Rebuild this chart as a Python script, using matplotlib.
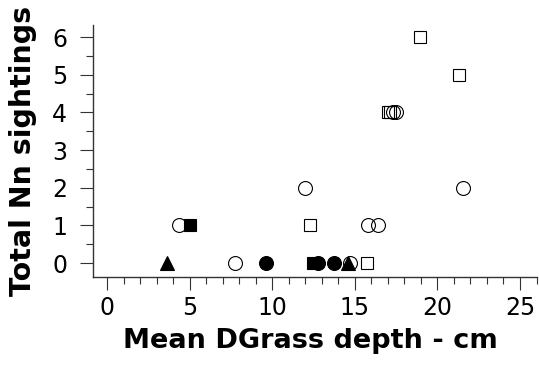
import matplotlib
matplotlib.use("Agg")
import matplotlib.pyplot as plt
from matplotlib.ticker import MultipleLocator

# Data
open_circle_x = [4.36, 7.71, 11.97, 14.7, 15.82, 16.41, 17.3, 17.48, 21.52]
open_circle_y = [1, 0, 2, 0, 1, 1, 4, 4, 2]
open_square_x = [12.28, 15.73, 16.99, 17.15, 18.94, 21.3]
open_square_y = [1, 0, 4, 4, 6, 5]
filled_circle_x = [9.59, 12.76, 13.73]
filled_circle_y = [0, 0, 0]
filled_square_x = [5.0, 12.46]
filled_square_y = [1, 0]
filled_triangle_x = [3.63, 14.6]
filled_triangle_y = [0, 0]

x_ticks = [0, 5, 10, 15, 20, 25]
y_ticks = [0, 1, 2, 3, 4, 5, 6]
x_label = "Mean DGrass depth - cm"
y_label = "Total Nn sightings"

plt.rcParams['font.family'] = ['DejaVu Sans']

fig = plt.figure(figsize=(5.39, 3.67), dpi=100)
ax = fig.add_axes([0.1725, 0.2452, 0.8238, 0.6867])

lw = 0.8
ax.plot(open_circle_x, open_circle_y, 'o', ms=10, mfc='none', mec='black', mew=lw, zorder=3)
ax.plot(open_square_x, open_square_y, 's', ms=9, mfc='none', mec='black', mew=lw, zorder=3)
ax.plot(filled_circle_x, filled_circle_y, 'o', ms=10, mfc='black', mec='black', mew=lw, zorder=4)
ax.plot(filled_square_x, filled_square_y, 's', ms=9, mfc='black', mec='black', mew=lw, zorder=4)
ax.plot(filled_triangle_x, filled_triangle_y, '^', ms=10, mfc='black', mec='black', mew=lw, zorder=4)

ax.set_xlim(-0.87, 26.03)
ax.set_ylim(-0.372, 6.32)
ax.set_xticks(x_ticks)
ax.set_yticks(y_ticks)
ax.xaxis.set_minor_locator(MultipleLocator(1))
ax.yaxis.set_minor_locator(MultipleLocator(0.5))

for s in ['top', 'right']:
    ax.spines[s].set_visible(False)
for s in ['left', 'bottom']:
    ax.spines[s].set_linewidth(1.0)
    ax.spines[s].set_color('#333333')

ax.tick_params(which='major', length=9.5, width=0.8, color='#333333', labelsize=17)
ax.tick_params(axis='y', which='major', pad=9)
ax.tick_params(axis='x', which='major', pad=4)
ax.tick_params(which='minor', length=5, width=0.8, color='#333333')

ax.set_xlabel(x_label, fontsize=19.5, fontweight='bold', labelpad=6)
ax.xaxis.label.set_x(0.489)
ax.set_ylabel(y_label, fontsize=20.5, fontweight='bold', labelpad=11)

fig.savefig("out.png", dpi=100)
